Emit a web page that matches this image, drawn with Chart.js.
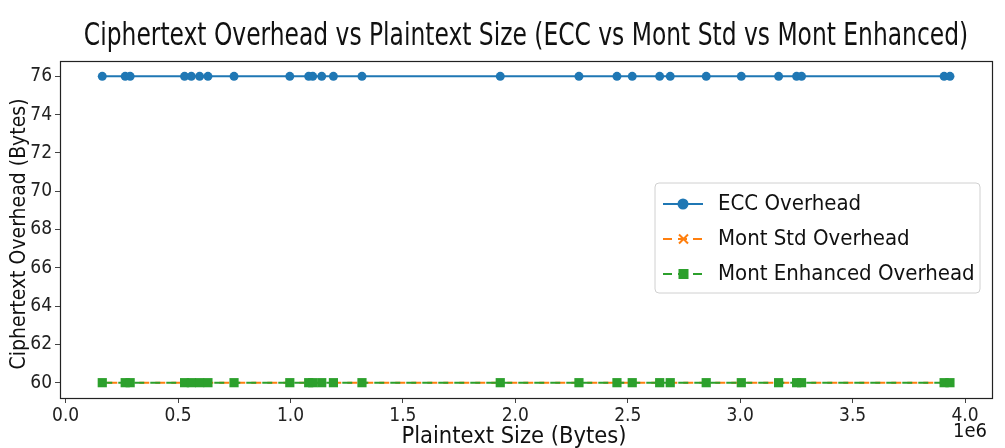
<!DOCTYPE html>
<html>
<head>
<meta charset="utf-8">
<script src="https://cdn.jsdelivr.net/npm/chart.js@4.4.0/dist/chart.umd.min.js"></script>
<style>
html,body{margin:0;padding:0;background:#fff}
#wrap{width:1005px;height:448px;position:relative}
</style>
</head>
<body>
<div id="wrap"><canvas id="chart"></canvas></div>
<script>
const plaintextSizes=[163000,265000,287000,529000,559000,596000,633000,749000,997000,1081000,1099000,1139000,1191000,1318000,1933000,2283000,2452000,2520000,2642000,2689000,2849000,3005000,3171000,3251000,3273000,3907000,3933000];
const eccOverhead=[76,76,76,76,76,76,76,76,76,76,76,76,76,76,76,76,76,76,76,76,76,76,76,76,76,76,76];
const montStdOverhead=[60,60,60,60,60,60,60,60,60,60,60,60,60,60,60,60,60,60,60,60,60,60,60,60,60,60,60];
const montEnhOverhead=[60,60,60,60,60,60,60,60,60,60,60,60,60,60,60,60,60,60,60,60,60,60,60,60,60,60,60];
const xTicks=[0,500000,1000000,1500000,2000000,2500000,3000000,3500000,4000000];
const yTicks=[60,62,64,66,68,70,72,74,76];
const seriesNames=['ECC Overhead','Mont Std Overhead','Mont Enhanced Overhead'];
const titleText='Ciphertext Overhead vs Plaintext Size (ECC vs Mont Std vs Mont Enhanced)';
const xTitle='Plaintext Size (Bytes)';
const yTitle='Ciphertext Overhead (Bytes)';

const FONT='"DejaVu Sans Condensed","DejaVu Sans",sans-serif';
const BLUE='#1f77b4',ORANGE='#ff7f0e',GREEN='#2ca02c';

function pts(ys){return plaintextSizes.map((x,i)=>({x:x,y:ys[i]}));}

const decor={
  id:'decor',
  afterDraw(chart){
    const ctx=chart.ctx,a=chart.chartArea;
    ctx.save();
    // frame
    ctx.strokeStyle='#222';ctx.lineWidth=1.2;
    ctx.strokeRect(a.left+0.5,a.top+0.5,a.right-a.left,a.bottom-a.top);
    ctx.fillStyle='#111';
    // title over axes, a bit taller than wide
    ctx.save();
    ctx.translate((a.left+a.right)/2,45);
    ctx.scale(1,1.25);
    ctx.font='26px '+FONT;
    ctx.textAlign='center';ctx.textBaseline='alphabetic';
    ctx.fillText(titleText,0,0);
    ctx.restore();
    // axis titles
    ctx.font='23.5px '+FONT;
    ctx.textAlign='center';ctx.textBaseline='middle';
    ctx.fillText(xTitle,514,437);
    ctx.save();
    ctx.translate(20,234);ctx.rotate(-Math.PI/2);
    ctx.font='21px '+FONT;
    ctx.fillText(yTitle,0,0);
    ctx.restore();
    // offset text
    ctx.font='20px '+FONT;
    ctx.textAlign='right';ctx.textBaseline='middle';
    ctx.fillText('1e6',a.right-5,432);
    // legend
    const bx=655,by=183,bw=325,bh=110;
    ctx.beginPath();
    ctx.roundRect(bx,by,bw,bh,4);
    ctx.fillStyle='rgba(255,255,255,0.85)';ctx.fill();
    ctx.strokeStyle='#d0d0d0';ctx.lineWidth=1;ctx.stroke();
    const rows=[204,239,274];
    const colors=[BLUE,ORANGE,GREEN];
    rows.forEach((ry,i)=>{
      ctx.strokeStyle=colors[i];ctx.lineWidth=2.2;
      if(i===0){ctx.setLineDash([]);}else{ctx.setLineDash([9,6]);}
      ctx.beginPath();ctx.moveTo(663,ry);ctx.lineTo(703,ry);ctx.stroke();
      ctx.setLineDash([]);
      ctx.fillStyle=colors[i];
      if(i===0){ctx.beginPath();ctx.arc(683,ry,5.5,0,Math.PI*2);ctx.fill();}
      else if(i===1){ctx.lineWidth=2;ctx.beginPath();ctx.moveTo(679,ry-4.5);ctx.lineTo(688,ry+4.5);ctx.moveTo(688,ry-4.5);ctx.lineTo(679,ry+4.5);ctx.stroke();}
      else{ctx.fillRect(678.5,ry-5,10,10);}
      ctx.fillStyle='#111';ctx.font='22px '+FONT;
      ctx.textAlign='left';ctx.textBaseline='middle';
      ctx.fillText(seriesNames[i],718,ry);
    });
    ctx.restore();
  }
};

new Chart(document.getElementById('chart'),{
  type:'line',
  data:{datasets:[
    {label:seriesNames[0],data:pts(eccOverhead),order:1,borderColor:BLUE,backgroundColor:BLUE,borderWidth:2,pointStyle:'circle',pointRadius:4.5,pointBorderWidth:0},
    {label:seriesNames[1],data:pts(montStdOverhead),order:2,borderColor:ORANGE,backgroundColor:ORANGE,borderWidth:2,borderDash:[10,6],borderDashOffset:11,pointStyle:'crossRot',pointRadius:4,pointBorderWidth:2},
    {label:seriesNames[2],data:pts(montEnhOverhead),order:0,borderColor:GREEN,backgroundColor:GREEN,borderWidth:2,borderDash:[10,6],pointStyle:'rect',pointRadius:6.5,pointBorderWidth:0}
  ]},
  options:{
    responsive:true,maintainAspectRatio:false,animation:false,
    layout:{padding:{top:61,right:13,left:0,bottom:0}},
    plugins:{legend:{display:false},title:{display:false},tooltip:{enabled:false}},
    scales:{
      x:{type:'linear',min:-25000,max:4120000,
        afterBuildTicks:s=>{s.ticks=xTicks.map(v=>({value:v}));},
        afterFit:s=>{s.height=50;},
        ticks:{callback:v=>(v/1e6).toFixed(1),color:'#222',font:{family:FONT,size:19},padding:2,maxRotation:0,autoSkip:false},
        grid:{display:true,drawOnChartArea:false,drawTicks:true,tickLength:5,color:'#444'},
        border:{display:true,color:'#222'}
      },
      y:{type:'linear',min:59.2,max:76.8,
        afterBuildTicks:s=>{s.ticks=yTicks.map(v=>({value:v}));},
        afterFit:s=>{s.width=60;},
        ticks:{color:'#222',font:{family:FONT,size:19},padding:3,autoSkip:false},
        grid:{display:true,drawOnChartArea:false,drawTicks:true,tickLength:5,color:'#444'},
        border:{display:true,color:'#222'}
      }
    }
  },
  plugins:[decor]
});
</script>
</body>
</html>
